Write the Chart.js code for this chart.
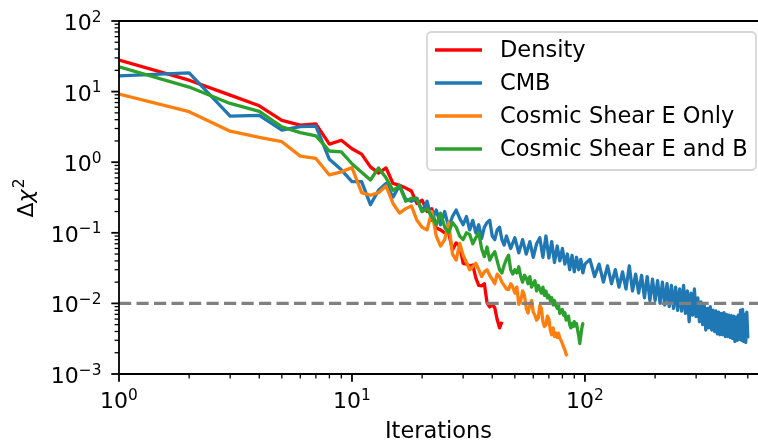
<!DOCTYPE html>
<html>
<head>
<meta charset="utf-8">
<script src="https://cdn.jsdelivr.net/npm/chart.js@4.4.1/dist/chart.umd.min.js"></script>
<style>
  html, body { margin: 0; padding: 0; background: #fff; }
  canvas { display: block; }
</style>
</head>
<body>
<canvas id="chart" width="758" height="443"></canvas>
<script>
// series labels / colours (legend order)
var labels = ['Density', 'CMB', 'Cosmic Shear E Only', 'Cosmic Shear E and B'];
var colors = ['#ff0000', '#1f77b4', '#ff7f0e', '#2ca02c'];

// delta chi^2 per iteration, iteration = index + 1
var densityChi = [28, 14.5, 8.9, 6.3, 3.9, 3.35, 3.5, 1.8, 2.05, 1.55,
  1.3, 0.86, 0.7, 0.83, 0.5, 0.47, 0.43, 0.39, 0.26, 0.29,
  0.2, 0.22, 0.117, 0.11, 0.1, 0.1, 0.057, 0.072, 0.065, 0.037,
  0.036, 0.034, 0.035, 0.023, 0.018, 0.0177, 0.019, 0.0102, 0.0089, 0.0095,
  0.0087, 0.0059, 0.0045, 0.0055];

var shearEChi = [9.2, 5.2, 2.75, 2.24, 1.95, 1.22, 1.13, 0.66, 0.73, 0.84,
  0.37, 0.34, 0.37, 0.46, 0.26, 0.19, 0.22, 0.24, 0.15, 0.12,
  0.11, 0.20, 0.09, 0.065, 0.08, 0.14, 0.05, 0.041, 0.071, 0.048,
  0.038, 0.03, 0.033, 0.037, 0.03, 0.024, 0.028, 0.03, 0.025, 0.022,
  0.019, 0.026, 0.024, 0.02, 0.018, 0.016, 0.0157, 0.019, 0.017, 0.014,
  0.017, 0.0097, 0.011, 0.015, 0.013, 0.0085, 0.0073, 0.0095, 0.011, 0.0075,
  0.0068, 0.0058, 0.0062, 0.0093, 0.0085, 0.0055, 0.0047, 0.005, 0.0066, 0.006,
  0.0042, 0.0036, 0.0045, 0.0034, 0.0038, 0.0033, 0.0038, 0.0032, 0.003, 0.0027,
  0.0024, 0.0022, 0.0019, 0.0018];

var shearEBChi = [22.4, 11.6, 6.8, 5.25, 3.16, 2.63, 2.36, 1.44, 1.4, 0.95,
  0.72, 0.56, 0.83, 0.6, 0.4, 0.46, 0.28, 0.31, 0.3, 0.2,
  0.22, 0.17, 0.13, 0.19, 0.12, 0.1, 0.14, 0.12, 0.09, 0.08,
  0.1, 0.095, 0.07, 0.085, 0.1, 0.06, 0.046, 0.063, 0.041, 0.048,
  0.054, 0.04, 0.03, 0.027, 0.035, 0.042, 0.048, 0.03, 0.026, 0.03,
  0.027, 0.033, 0.024, 0.02, 0.025, 0.023, 0.019, 0.024, 0.017, 0.019,
  0.021, 0.015, 0.018, 0.016, 0.014, 0.017, 0.013, 0.015, 0.012, 0.013,
  0.011, 0.012, 0.0095, 0.011, 0.0093, 0.0085, 0.0095, 0.0072, 0.0078, 0.0082,
  0.0068, 0.0074, 0.0058, 0.0064, 0.0066, 0.005, 0.0045, 0.0052, 0.0047, 0.0055,
  0.0048, 0.0052, 0.0042, 0.0035, 0.0027, 0.0035, 0.0045, 0.0052, 0.0053];

// CMB is sampled more sparsely at high iteration counts
var cmbIter = [1, 2, 3, 4, 5, 6, 7, 8, 9, 10, 11, 12, 13, 14, 15, 16, 17, 18, 19, 20,
  21, 22, 23, 24, 25, 26, 27, 28, 29, 30, 31, 32, 33, 34, 35, 36, 37, 38, 39, 40,
  41, 42, 43, 44, 45,
  46, 48, 50, 52, 54, 56, 58, 60, 62, 64, 66, 68, 70, 72, 74, 76, 78, 80, 82, 84,
  86, 88, 90, 92, 94, 96, 98, 100,
  105, 110, 115, 120, 125, 130, 135, 140, 145, 150, 155, 160, 165, 170, 175, 180,
  185, 190, 195, 200, 205, 210, 215, 220, 225, 230, 235, 240, 245, 250, 255, 260,
  265, 270, 275, 280, 285, 290, 295, 300, 305, 310, 315, 320, 325, 330, 335, 340,
  345, 350, 355, 360, 365, 370, 375, 380, 385, 390, 395, 400, 405, 410, 415, 420,
  425, 430, 435, 440, 445, 450, 455, 460, 465, 470, 475, 480, 485, 490, 495, 500];
var cmbChi = [16.7, 18.4, 4.5, 4.6, 2.85, 3.2, 3.24, 1.1, 0.78, 0.53,
  0.53, 0.25, 0.40, 0.50, 0.32, 0.47, 0.30, 0.28, 0.31, 0.20,
  0.28, 0.15, 0.21, 0.13, 0.20, 0.12, 0.17, 0.21, 0.16, 0.13,
  0.17, 0.11, 0.15, 0.10, 0.13, 0.083, 0.12, 0.14, 0.15, 0.09,
  0.08, 0.11, 0.12, 0.08, 0.067,
  0.09, 0.06, 0.085, 0.052, 0.08, 0.05, 0.075, 0.045, 0.07, 0.085,
  0.045, 0.09, 0.044, 0.075, 0.038, 0.065, 0.04, 0.06, 0.036, 0.05,
  0.03, 0.048, 0.028, 0.045, 0.03, 0.042, 0.027, 0.036,
  0.042, 0.024, 0.036, 0.020, 0.034, 0.019, 0.030, 0.017, 0.028, 0.016,
  0.034, 0.015, 0.026, 0.014, 0.025, 0.012, 0.024, 0.011, 0.022, 0.011,
  0.021, 0.010, 0.020, 0.0095, 0.019, 0.009, 0.018, 0.0085, 0.017, 0.008,
  0.016, 0.0078, 0.018, 0.0072, 0.015, 0.0055, 0.014, 0.0068, 0.016, 0.0065,
  0.012, 0.0055, 0.0105, 0.005, 0.0095, 0.0042, 0.0085, 0.0045, 0.009, 0.0042,
  0.008, 0.004, 0.0078, 0.0037, 0.0075, 0.0036, 0.0072, 0.0036, 0.0074, 0.0034,
  0.007, 0.0034, 0.0068, 0.0033, 0.0067, 0.0032, 0.0066, 0.0029, 0.0064, 0.003,
  0.0068, 0.0031, 0.008, 0.003, 0.0082, 0.0029, 0.007, 0.0028, 0.0075, 0.0032];

var threshold = 0.01;
var xMin = 1, xMax = 553;
var yMin = 1e-3, yMax = 1e2;

var xTicks = [1, 2, 3, 4, 5, 6, 7, 8, 9, 10, 20, 30, 40, 50, 60, 70, 80, 90, 100, 200, 300, 400, 500];
var yTicks = [];
[1e-3, 1e-2, 1e-1, 1, 10].forEach(function (d) {
  for (var k = 1; k < 10; k++) yTicks.push(d * k);
});
yTicks.push(100);

var FONT = 'DejaVu Sans';

function isMajor(v) {
  var l = Math.log10(v);
  return Math.abs(l - Math.round(l)) < 1e-6;
}

function expText(v) {
  return String(Math.round(Math.log10(v))).replace('-', '\u2212');
}

// "10" with a raised exponent; anchor 'center' or 'right', y is the baseline
function drawPow(ctx, v, x, y, anchor) {
  var e = expText(v);
  ctx.font = '22px "' + FONT + '"';
  var w1 = ctx.measureText('10').width;
  ctx.font = '15.4px "' + FONT + '"';
  var w2 = ctx.measureText(e).width;
  var left = anchor === 'right' ? x - w1 - w2 : x - (w1 + w2) / 2;
  ctx.font = '22px "' + FONT + '"';
  ctx.fillText('10', left, y);
  ctx.font = '15.4px "' + FONT + '"';
  ctx.fillText(e, left + w1, y - 8.4);
}

function byIndex(arr) {
  return arr.map(function (y, i) { return {x: i + 1, y: y}; });
}

function line(label, color, data, order) {
  return {
    label: label, data: data, borderColor: color, backgroundColor: color,
    borderWidth: 3.3, pointRadius: 0, tension: 0, fill: false,
    borderJoinStyle: 'round', order: order
  };
}

// axes spines, tick marks, tick labels, y title and the legend box
var framePlugin = {
  id: 'frame',
  afterDraw: function (chart) {
    var ctx = chart.ctx, a = chart.chartArea;
    var sx = chart.scales.x, sy = chart.scales.y;
    ctx.save();
    ctx.strokeStyle = '#000';
    ctx.fillStyle = '#000';
    ctx.textBaseline = 'alphabetic';
    ctx.textAlign = 'left';
    xTicks.forEach(function (v) {
      var px = sx.getPixelForValue(v), maj = isMajor(v);
      ctx.lineWidth = maj ? 1.8 : 1.3;
      ctx.beginPath();
      ctx.moveTo(px, a.bottom);
      ctx.lineTo(px, a.bottom + (maj ? 7.7 : 4.4));
      ctx.stroke();
      if (maj) drawPow(ctx, v, px, a.bottom + 34, 'center');
    });
    yTicks.forEach(function (v) {
      var py = sy.getPixelForValue(v), maj = isMajor(v);
      ctx.lineWidth = maj ? 1.8 : 1.3;
      ctx.beginPath();
      ctx.moveTo(a.left, py);
      ctx.lineTo(a.left - (maj ? 7.7 : 4.4), py);
      ctx.stroke();
      if (maj) drawPow(ctx, v, a.left - 17.5, py + 9, 'right');
    });
    ctx.lineWidth = 1.8;
    ctx.beginPath();
    ctx.moveTo(a.right, a.top);
    ctx.lineTo(a.left, a.top);
    ctx.lineTo(a.left, a.bottom);
    ctx.lineTo(a.right, a.bottom);
    ctx.stroke();

    // y axis title: Delta chi^2
    ctx.save();
    ctx.translate(33, (a.top + a.bottom) / 2 + 1);
    ctx.rotate(-Math.PI / 2);
    ctx.font = '22px "' + FONT + '"';
    var wd = ctx.measureText('\u0394').width;
    ctx.font = 'italic 22px "' + FONT + '"';
    var wc = ctx.measureText('\u03c7').width;
    ctx.font = '15.4px "' + FONT + '"';
    var ws = ctx.measureText('2').width;
    var t0 = -(wd + wc + ws) / 2;
    ctx.font = '22px "' + FONT + '"';
    ctx.fillText('\u0394', t0, 0);
    ctx.font = 'italic 22px "' + FONT + '"';
    ctx.fillText('\u03c7', t0 + wd, 0);
    ctx.font = '15.4px "' + FONT + '"';
    ctx.fillText('2', t0 + wd + wc + 1, -9);
    ctx.restore();

    // legend
    var w = 329, h = 138;
    var bx = a.right - w - 2, by = a.top + 11;
    ctx.beginPath();
    ctx.roundRect(bx, by, w, h, 4.4);
    ctx.fillStyle = 'rgba(255,255,255,0.8)';
    ctx.fill();
    ctx.strokeStyle = 'rgba(204,204,204,0.8)';
    ctx.lineWidth = 1.8;
    ctx.stroke();
    ctx.font = '22.5px "' + FONT + '"';
    ctx.textBaseline = 'middle';
    labels.forEach(function (lab, i) {
      var yy = by + 18 + i * 33;
      ctx.strokeStyle = colors[i];
      ctx.lineWidth = 3.3;
      ctx.beginPath();
      ctx.moveTo(bx + 8, yy);
      ctx.lineTo(bx + 55, yy);
      ctx.stroke();
      ctx.fillStyle = '#000';
      ctx.fillText(lab, bx + 73, yy + 1);
    });
    ctx.restore();
  }
};

var ctx = document.getElementById('chart').getContext('2d');
var chart = new Chart(ctx, {
  type: 'line',
  data: {
    datasets: [
      line(labels[0], colors[0], byIndex(densityChi), 4),
      line(labels[1], colors[1], cmbIter.map(function (x, i) { return {x: x, y: cmbChi[i]}; }), 3),
      line(labels[2], colors[2], byIndex(shearEChi), 2),
      line(labels[3], colors[3], byIndex(shearEBChi), 1),
      {
        label: 'threshold', data: [{x: xMin, y: threshold}, {x: xMax, y: threshold}],
        borderColor: '#808080', borderWidth: 3.3, borderDash: [12.2, 5.3],
        pointRadius: 0, fill: false, order: 0
      }
    ]
  },
  options: {
    responsive: false,
    animation: false,
    layout: {padding: {top: 21, right: 0, bottom: 0, left: 0}},
    plugins: {legend: {display: false}, tooltip: {enabled: false}},
    scales: {
      x: {
        type: 'logarithmic', min: xMin, max: xMax,
        afterFit: function (s) { s.height = 69; },
        afterBuildTicks: function (s) { s.ticks = xTicks.map(function (v) { return {value: v}; }); },
        grid: {display: false, drawTicks: false},
        border: {display: false},
        ticks: {display: false, autoSkip: false},
        title: {
          display: true, text: 'Iterations', color: '#000',
          font: {family: FONT, size: 22.5, lineHeight: 1}, padding: 0
        }
      },
      y: {
        type: 'logarithmic', min: yMin, max: yMax,
        afterFit: function (s) { s.width = 119; },
        afterBuildTicks: function (s) { s.ticks = yTicks.map(function (v) { return {value: v}; }); },
        grid: {display: false, drawTicks: false},
        border: {display: false},
        ticks: {display: false, autoSkip: false}
      }
    }
  },
  plugins: [framePlugin]
});
</script>
</body>
</html>
